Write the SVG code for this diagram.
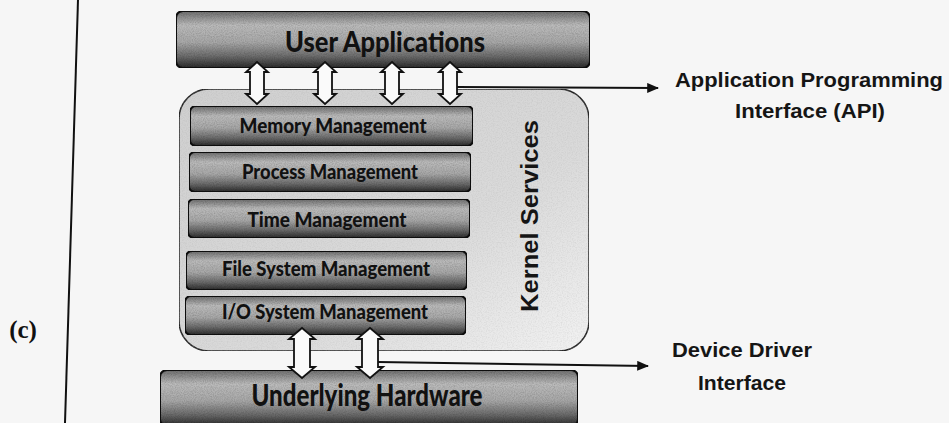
<svg xmlns="http://www.w3.org/2000/svg" xmlns:xlink="http://www.w3.org/1999/xlink" width="949" height="423" viewBox="0 0 949 423">
  <style>
    .bar { stroke: #111; stroke-width: 2; fill: url(#barGrad); filter: url(#grain); }
    .barTxt { font-family: Lato, "Open Sans", "Liberation Sans", sans-serif; font-weight: 900; fill: #111; text-anchor: middle; }
    .lbl { font-family: "Liberation Sans", Arial, sans-serif; font-weight: bold; fill: #151515; text-anchor: middle; font-size: 21px; }
    .dbl { fill: #fafafa; stroke: #111; stroke-width: 1.8; stroke-linejoin: miter; }
    .conn { stroke: #111; stroke-width: 2; fill: none; }
  </style>
  <defs>
    <linearGradient id="barGrad" x1="0" y1="0" x2="0" y2="1">
      <stop offset="0" stop-color="#6c6c6c"/>
      <stop offset="0.25" stop-color="#bcbcbc"/>
      <stop offset="0.55" stop-color="#a8a8a8"/>
      <stop offset="0.8" stop-color="#6a6a6a"/>
      <stop offset="1" stop-color="#2a2a2a"/>
    </linearGradient>
    <filter id="grain" x="0" y="0" width="100%" height="100%">
      <feTurbulence type="fractalNoise" baseFrequency="0.9" numOctaves="2" seed="3" result="n"/>
      <feColorMatrix in="n" type="matrix" values="0 0 0 0 0  0 0 0 0 0  0 0 0 0 0  0 0 0 -1.6 1.1" result="dots"/>
      <feComposite in="dots" in2="SourceAlpha" operator="in" result="dotsIn"/>
      <feComponentTransfer in="dotsIn" result="soft"><feFuncA type="linear" slope="0.35"/></feComponentTransfer>
      <feMerge><feMergeNode in="SourceGraphic"/><feMergeNode in="soft"/></feMerge>
    </filter>
    <filter id="grainLight" x="0" y="0" width="100%" height="100%">
      <feTurbulence type="fractalNoise" baseFrequency="0.8" numOctaves="2" seed="7" result="n"/>
      <feColorMatrix in="n" type="matrix" values="0 0 0 0 0.3  0 0 0 0 0.3  0 0 0 0 0.3  0 0 0 -1.8 1.1" result="dots"/>
      <feComposite in="dots" in2="SourceAlpha" operator="in" result="dotsIn"/>
      <feComponentTransfer in="dotsIn" result="soft"><feFuncA type="linear" slope="0.25"/></feComponentTransfer>
      <feMerge><feMergeNode in="SourceGraphic"/><feMergeNode in="soft"/></feMerge>
    </filter>
    <linearGradient id="kernGrad" x1="0" y1="0" x2="1" y2="1">
      <stop offset="0" stop-color="#cfcfcf"/>
      <stop offset="0.6" stop-color="#dadada"/>
      <stop offset="1" stop-color="#f2f2f2"/>
    </linearGradient>
    <path id="dblTop" d="M0,0 L11,10 L7,10 L7,32 L11,32 L0,42 L-11,32 L-7,32 L-7,10 L-11,10 Z"/>
    <path id="dblBot" d="M0,0 L13,11 L8,11 L8,39 L13,39 L0,50 L-13,39 L-8,39 L-8,11 L-13,11 Z"/>
    <marker id="ah" viewBox="0 0 10 10" refX="9" refY="5" markerWidth="12" markerHeight="10" orient="auto" markerUnits="userSpaceOnUse" preserveAspectRatio="none">
      <path d="M0,0 L10,5 L0,10 Z" fill="#111"/>
    </marker>
  </defs>

  <rect x="0" y="0" width="949" height="423" fill="#f6f6f6"/>

  <g id="divider">
    <line x1="78" y1="0" x2="65" y2="423" stroke="#111" stroke-width="2"/>
    <text x="23" y="338" font-family="'Liberation Serif', serif" font-weight="bold" font-size="25" fill="#111" text-anchor="middle">(c)</text>
  </g>

  <g id="kernel-services">
    <rect x="179" y="89" width="410" height="262" rx="30" ry="30" fill="url(#kernGrad)" stroke="#222" stroke-width="1.5" filter="url(#grainLight)"/>
    <text transform="translate(538,216) rotate(-90)" font-family="'Liberation Sans', Arial, sans-serif" font-weight="bold" font-size="24" fill="#151515" text-anchor="middle" textLength="192" lengthAdjust="spacingAndGlyphs">Kernel Services</text>
  </g>

  <g id="user-applications">
    <rect class="bar" x="176" y="11" width="414" height="57" rx="7"/>
    <text class="barTxt" x="385" y="52" font-size="28" textLength="200" lengthAdjust="spacingAndGlyphs">User Applications</text>
  </g>

  <g id="memory-management">
    <rect class="bar" x="190" y="106" width="283" height="40" rx="6"/>
    <text class="barTxt" x="333" y="133" font-size="21" textLength="187" lengthAdjust="spacingAndGlyphs">Memory Management</text>
  </g>
  <g id="process-management">
    <rect class="bar" x="189" y="152" width="282" height="40" rx="6"/>
    <text class="barTxt" x="330" y="179" font-size="21" textLength="176" lengthAdjust="spacingAndGlyphs">Process Management</text>
  </g>
  <g id="time-management">
    <rect class="bar" x="188" y="199" width="282" height="39" rx="6"/>
    <text class="barTxt" x="327" y="227" font-size="21" textLength="159" lengthAdjust="spacingAndGlyphs">Time Management</text>
  </g>
  <g id="file-system-management">
    <rect class="bar" x="186" y="251" width="281" height="39" rx="6"/>
    <text class="barTxt" x="326" y="276" font-size="21" textLength="208" lengthAdjust="spacingAndGlyphs">File System Management</text>
  </g>
  <g id="io-system-management">
    <rect class="bar" x="185" y="296" width="281" height="39" rx="6"/>
    <text class="barTxt" x="325" y="319" font-size="21" textLength="206" lengthAdjust="spacingAndGlyphs">I/O System Management</text>
  </g>

  <g id="underlying-hardware">
    <rect class="bar" x="160" y="370" width="418" height="56" rx="7"/>
    <text class="barTxt" x="367" y="406" font-size="30" textLength="231" lengthAdjust="spacingAndGlyphs">Underlying Hardware</text>
  </g>

  <g id="api-label">
    <text class="lbl" x="809" y="87" textLength="268" lengthAdjust="spacingAndGlyphs">Application Programming</text>
    <text class="lbl" x="810" y="118" textLength="150" lengthAdjust="spacingAndGlyphs">Interface (API)</text>
  </g>
  <g id="ddi-label">
    <text class="lbl" x="742" y="357" textLength="140" lengthAdjust="spacingAndGlyphs">Device Driver</text>
    <text class="lbl" x="742" y="390" textLength="88" lengthAdjust="spacingAndGlyphs">Interface</text>
  </g>

  <g id="connectors">
    <use href="#dblTop" class="dbl" x="257" y="62"/>
    <use href="#dblTop" class="dbl" x="325" y="62"/>
    <use href="#dblTop" class="dbl" x="392" y="62"/>
    <use href="#dblTop" class="dbl" x="450" y="62"/>
    <use href="#dblBot" class="dbl" x="302" y="328"/>
    <use href="#dblBot" class="dbl" x="370" y="328"/>
    <line class="conn" x1="457" y1="87" x2="658" y2="88" marker-end="url(#ah)"/>
    <line class="conn" x1="378" y1="362" x2="648" y2="366" marker-end="url(#ah)"/>
  </g>
</svg>
